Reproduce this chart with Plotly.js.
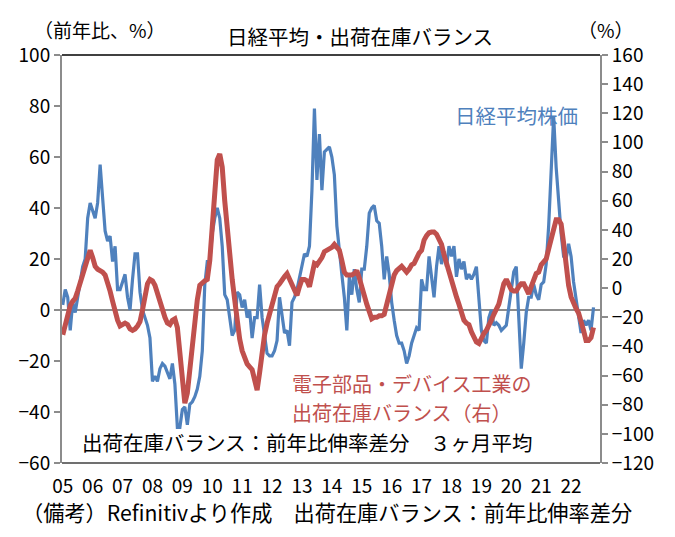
<!DOCTYPE html>
<html>
<head>
<meta charset="utf-8">
<script src="https://cdn.plot.ly/plotly-3.0.1.min.js"></script>
<style>html,body{margin:0;padding:0;background:#fff;}#chart{width:675px;height:537px;}</style>
</head>
<body>
<div id="chart"></div>
<script>
// Monthly data, Jan 2005 onwards
const startYear = 2005;
const yearLabels = ['05','06','07','08','09','10','11','12','13','14','15','16','17','18','19','20','21','22'];

// 日経平均株価 前年比 (%) - left axis
const nikkei = [
  2, 8, 5, -8, 3, -1, 5, 12, 17, 20, 36, 42,
  39, 36, 42, 57, 44, 31, 27, 29, 19, 25, 8, 8,
  11, 14, 5, 0, 12, 22, 22, 7, 0, -3, -6, -11,
  -28, -26, -28, -23, -21, -22, -25, -27, -21, -29, -46, -46,
  -39, -38, -45, -37, -36, -34, -31, -26, -16, 10, 19, 19,
  30, 36, 40, 36, 25, 6, 4, -4, -10, -8, 7, 6,
  1, 4, -3, 0, -11, -3, -3, 10, -3, -10, -17, -18,
  -18, -16, -12, 5, -3, -9, -8, -14, 3, 5, 8, 13,
  17, 22, 21, 25, 47, 79, 51, 69, 47, 62, 63, 64,
  60, 53, 33, 22, 14, 5, -8, 13, 6, 16, 8, 3,
  16, 16, 25, 38, 40, 41, 35, 34, 25, 12, 21, 14,
  3, -4, -10, -13, -13, -16, -21, -18, -13, -10, -7, -8,
  12, 8, 8, 21, 12, 5, 17, 25, 18, 23, 17, 25,
  21, 25, 13, 20, 16, 19, 12, 14, 12, 14, 17, 5,
  -8, -12, -13, -3, 0, -6, -5, -6, -8, -7, -6, 1,
  8, 15, 17, -3, -23, -13, -1, 5, 5, 10, 6, 4,
  10, 11, 18, 33, 54, 76, 56, 41, 30, 21, 20, 26,
  21, 11, 4, -3, -9, -4, -6, -4, -8, 1
];

// 電子部品・デバイス工業 出荷在庫バランス (%) - right axis
const balance = [
  -32, -24, -18, -12, -9, -7, -2, 4, 10, 15, 21, 26,
  21, 15, 13, 12, 11, 9, 4, -2, -9, -16, -22, -26,
  -25, -24, -25, -28, -29, -28, -26, -23, -15, -6, 3, 6,
  5, 2, -4, -10, -15, -20, -24, -25, -22, -21, -27, -47,
  -68, -79, -72, -55, -35, -18, -8, 2, 4, 5, 6, 19,
  42, 67, 88, 92, 83, 60, 40, 22, 6, -8, -25, -35,
  -43, -48, -52, -54, -56, -63, -70, -58, -43, -32, -24, -18,
  -13, -6, 1, 3, 6, 8, 10, 6, 3, -1, -5, 1,
  6, 6, 5, 1, 10, 17, 16, 18, 21, 25, 26, 27,
  28, 30, 28, 26, 19, 11, 9, 9, 9, 10, 12, 7,
  2, -5, -11, -17, -21, -20, -20, -19, -19, -18, -11, -4,
  3, 9, 12, 14, 15, 13, 11, 13, 16, 17, 21, 24,
  26, 33, 36, 38, 38.5, 38.5, 37, 33, 30, 23, 17, 10,
  3, -2, -6, -11, -17, -22, -24, -25, -30, -34, -37, -38,
  -34, -31, -29, -26, -22, -18, -14, -11, -4, 3, 6, 3,
  -1, -2, -2, 1, 3, 3, 0, -4, 1, 6, 10, 11,
  16, 18, 20, 27, 35, 42, 47, 47, 44, 31, 14, 2,
  -6, -11, -14, -17, -22, -29, -36, -36, -34, -27
];

const idxN = nikkei.map((_, i) => i);
const idxB = balance.map((_, i) => i);
const tickVals = yearLabels.map((_, k) => k * 12);

const numFont = 'Liberation Sans Narrow, Arial Narrow, Noto Sans CJK JP, sans-serif';
const jpFont = 'Noto Sans CJK JP, sans-serif';

const traces = [
  {
    x: idxN, y: nikkei, type: 'scatter', mode: 'lines', yaxis: 'y',
    line: {color: '#4f81bd', width: 3.2}, name: '日経平均株価', hoverinfo: 'skip'
  },
  {
    x: idxB, y: balance, type: 'scatter', mode: 'lines', yaxis: 'y2',
    line: {color: '#c0504d', width: 5}, name: '出荷在庫バランス', hoverinfo: 'skip'
  }
];

const px = v => (v - 62) / 538;
const py = v => (463 - v) / 408;
const JP = 20.5;

const layout = {
  width: 675, height: 537,
  margin: {l: 62, r: 75, t: 55, b: 74, pad: 0},
  paper_bgcolor: '#ffffff', plot_bgcolor: '#ffffff',
  showlegend: false,
  font: {family: jpFont, color: '#000', size: 17},
  xaxis: {
    range: [-0.3, 215.6], tickvals: tickVals, ticktext: yearLabels,
    showgrid: false, zeroline: false, showline: false, ticks: '',
    tickfont: {family: numFont, size: 19, color: '#000'}, ticklabelstandoff: 10
  },
  yaxis: {
    range: [-60, 100], dtick: 20, showgrid: false,
    zeroline: true, zerolinecolor: '#8c8c8c', zerolinewidth: 2,
    showline: true, linecolor: '#8c8c8c', linewidth: 2,
    ticks: 'outside', ticklen: 6, tickwidth: 2, tickcolor: '#8c8c8c',
    tickfont: {family: numFont, size: 19, color: '#000'}
  },
  yaxis2: {
    range: [-120, 160], dtick: 20, overlaying: 'y', side: 'right', showgrid: false,
    zeroline: false, showline: true, linecolor: '#8c8c8c', linewidth: 2,
    ticks: 'outside', ticklen: 6, tickwidth: 2, tickcolor: '#8c8c8c',
    tickfont: {family: numFont, size: 19, color: '#000'}
  },
  shapes: [
    {type: 'line', xref: 'paper', yref: 'paper', x0: 0, x1: 1, y0: 1, y1: 1, line: {color: '#000', width: 1.5}},
    {type: 'line', xref: 'paper', yref: 'paper', x0: 0, x1: 1, y0: 0, y1: 0, line: {color: '#404040', width: 1.5}}
  ],
  annotations: [
    {text: '日経平均・出荷在庫バランス', xref: 'paper', yref: 'paper', x: px(360), y: py(36), xanchor: 'center', yanchor: 'middle', showarrow: false, font: {size: JP, color: '#000'}},
    {text: '（前年比、%）', xref: 'paper', yref: 'paper', x: px(32), y: py(29), xanchor: 'left', yanchor: 'middle', showarrow: false, font: {size: 19, color: '#000'}},
    {text: '（%）', xref: 'paper', yref: 'paper', x: px(576), y: py(29), xanchor: 'left', yanchor: 'middle', showarrow: false, font: {size: 19, color: '#000'}},
    {text: '日経平均株価', xref: 'paper', yref: 'paper', x: px(580), y: py(115), xanchor: 'right', yanchor: 'middle', showarrow: false, font: {size: JP, color: '#4f81bd'}},
    {text: '電子部品・デバイス工業の', xref: 'paper', yref: 'paper', x: px(290), y: py(383), xanchor: 'left', yanchor: 'middle', showarrow: false, font: {size: 20, color: '#c0504d'}},
    {text: '出荷在庫バランス（右）', xref: 'paper', yref: 'paper', x: px(290), y: py(412), xanchor: 'left', yanchor: 'middle', showarrow: false, font: {size: 20, color: '#c0504d'}},
    {text: '出荷在庫バランス：前年比伸率差分　３ヶ月平均', xref: 'paper', yref: 'paper', x: px(80), y: py(442), xanchor: 'left', yanchor: 'middle', showarrow: false, font: {size: JP, color: '#000'}},
    {text: '（備考）Refinitivより作成　出荷在庫バランス：前年比伸率差分', xref: 'paper', yref: 'paper', x: px(20), y: py(511), xanchor: 'left', yanchor: 'middle', showarrow: false, font: {size: 21.2, color: '#000'}}
  ]
};

Plotly.newPlot('chart', traces, layout, {staticPlot: true, displayModeBar: false});
</script>
</body>
</html>
